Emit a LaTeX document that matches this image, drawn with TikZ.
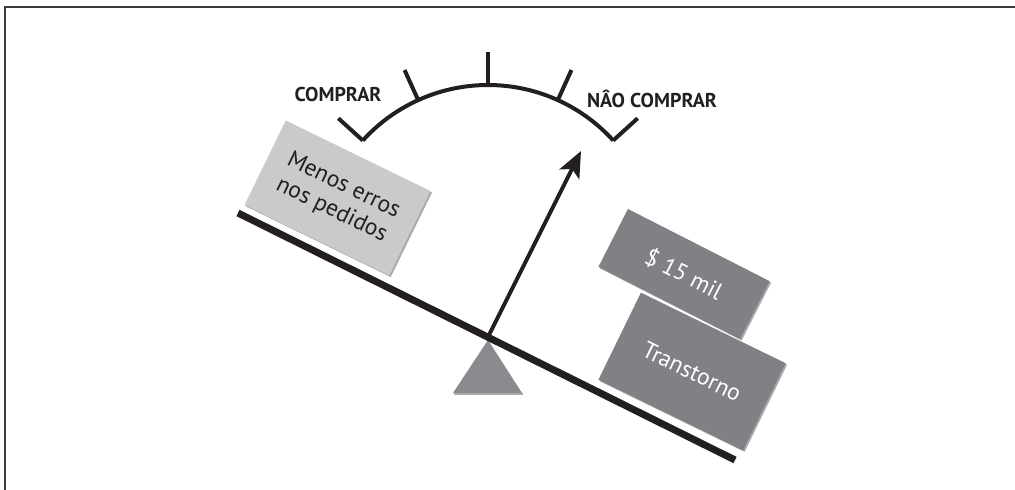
\documentclass[tikz,border=0pt]{standalone}
\usepackage{fontspec}
\setmainfont{PT Sans}
\usetikzlibrary{arrows.meta,shadows}
\definecolor{beamcol}{HTML}{231F20}
\definecolor{lightbox}{HTML}{C9CACC}
\definecolor{darkbox}{HTML}{808184}
\definecolor{fulcrumcol}{HTML}{8A8B8F}
\definecolor{shadecol}{HTML}{A7A9AC}
\definecolor{framecol}{HTML}{3A3A3A}
\tikzset{
  beamline/.style={beamcol, line width=7pt},
  needle/.style={beamcol, line width=4pt, -{Stealth[length=26pt,width=22pt,inset=6pt]}},
  gaugeline/.style={beamcol, line width=4pt},
  gaugelabel/.style={text=beamcol, font=\bfseries\fontsize{20}{22}\selectfont, inner sep=0pt},
  weightbox/.style={rotate=-26, minimum width=161pt, minimum height=94pt, inner sep=0pt,
    align=center, font=\fontsize{23.5}{27}\selectfont,
    general shadow={fill=shadecol, shadow xshift=1.5pt, shadow yshift=-1.5pt}},
}
\begin{document}
\begin{tikzpicture}[x=1pt,y=1pt]
\useasboundingbox (0,0) rectangle (1015,490);
% frame
\draw[framecol, line width=1.5pt] (1015,483) -- (5,483) -- (5,0);
% fulcrum
\fill[fulcrumcol] (488,150) -- (522,97) -- (453,97) -- cycle;
\draw[shadecol, line width=1.5pt] (454,96) -- (523,96);
% beam
\coordinate (bl) at (238,277);
\coordinate (br) at (735,30);
\draw[beamline] (bl) -- (br);
% needle
\coordinate (pivot) at (488,153);
\coordinate (tip) at (581,339);
\draw[needle] (pivot) -- (tip);
% gauge
\coordinate (g) at (488,236);
\draw[gaugeline] (g) ++(137.8:169) arc[start angle=137.8, end angle=42.2, radius=169];
\foreach \a in {137.8,114.4,90,65.6,42.2}{
  \draw[gaugeline] (g) ++(\a:169) -- ++(\a:33);
}
\node[gaugelabel] (buy) at (338,395) {COMPRAR};
\node[gaugelabel] (nobuy) at (652,391) {NÂO COMPRAR};
% weights
\node[weightbox, fill=lightbox, text=beamcol] (menos) at (337.5,292) {Menos erros\\nos pedidos};
\node[weightbox, fill=darkbox, text=white, minimum height=97pt] (transtorno) at (692,118.5) {Transtorno};
\node[weightbox, fill=darkbox, text=white, rotate=-1, minimum width=159pt, minimum height=65pt] (custo) at (684,216) {\$ 15 mil};
\end{tikzpicture}
\end{document}
